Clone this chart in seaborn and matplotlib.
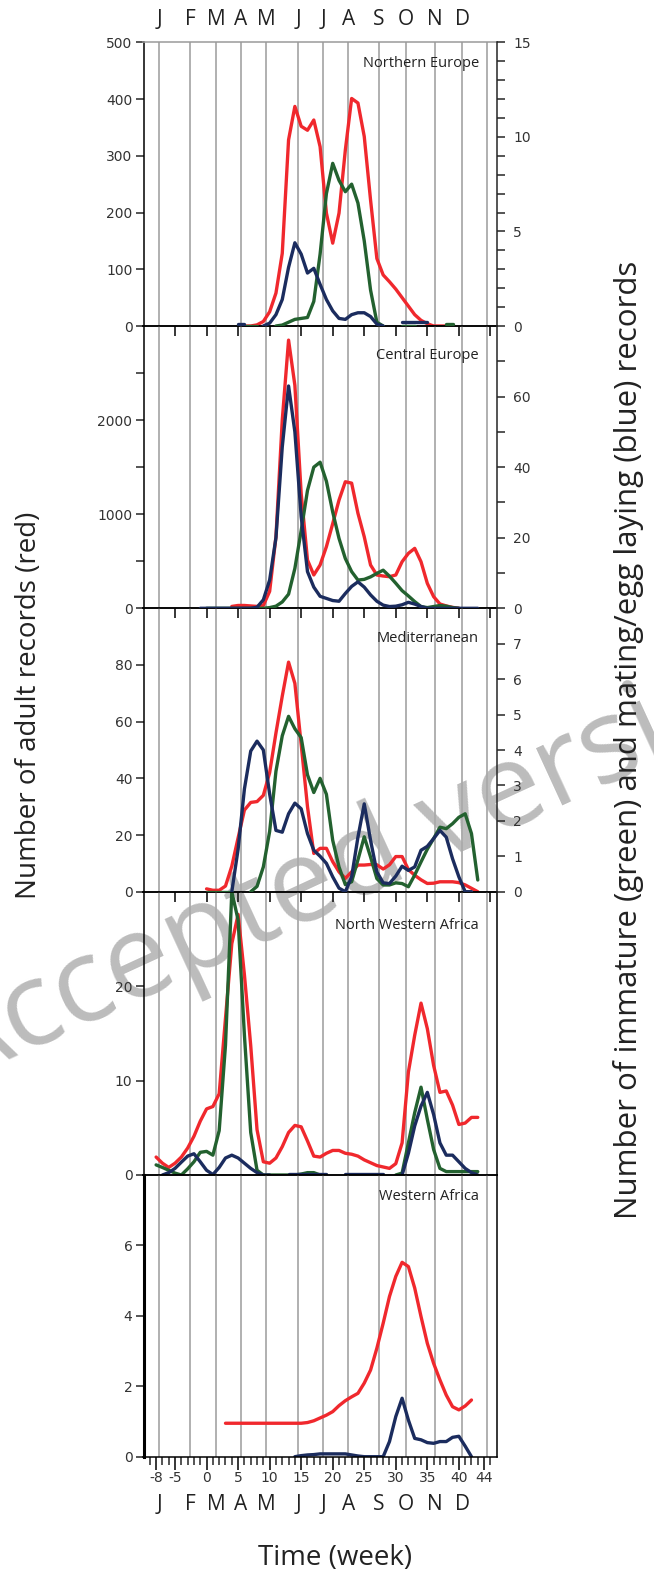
import numpy as np
import pandas as pd
import matplotlib
matplotlib.use("Agg")
import matplotlib.pyplot as plt
import matplotlib.transforms as mtransforms
from matplotlib.ticker import FixedLocator, NullFormatter
import seaborn as sns

NAN = np.nan

# ---------------- data ----------------
MONTHS = ["J", "F", "M", "A", "M", "J", "J", "A", "S", "O", "N", "D"]
MONTH_POS = [-7.5, -2.55, 1.5, 5.4, 9.45, 14.5, 18.45, 22.45, 27.35, 31.6, 36.25, 40.5]
GRID_POS = MONTH_POS + [44.5]
WEEK_TICKS = [-8, -5, 0, 5, 10, 15, 20, 25, 30, 35, 40, 44]
REGIONS = ["Northern Europe", "Central Europe", "Mediterranean",
           "North Western Africa", "Western Africa"]

# Northern Europe (red: left axis 0-500; green/blue: right axis 0-15)
NE_RED_START = 5
NE_RED = [0, 0, 0, 2, 8, 25, 58, 128, 328, 387, 352, 345, 363, 316, 199, 146, 199,
          310, 401, 393, 334, 222, 119, 90, 78, 65, 50, 35, 20, 10, 4, 0, 0, 0, 0]
NE_GREEN_START = 5
NE_GREEN = [0, 0, 0, 0, NAN, NAN, 0, 0.05, 0.2, 0.35, 0.4, 0.45, 1.3, 3.8, 7.0, 8.6,
            7.7, 7.1, 7.5, 6.5, 4.5, 1.9, 0.2, 0, NAN, NAN, 0, 0, 0, NAN, NAN, NAN, NAN,
            0.1, 0.1]
NE_BLUE_START = 5
NE_BLUE = [0.1, 0.1, NAN, NAN, 0, 0.15, 0.6, 1.4, 3.1, 4.4, 3.8, 2.8, 3.05, 2.2, 1.4,
           0.8, 0.4, 0.35, 0.6, 0.7, 0.7, 0.5, 0.1, 0, NAN, NAN, 0.2, 0.2, 0.2, 0.2, 0.2]

# Central Europe (red: left 0-3000; green/blue: right 0-80)
CE_RED_START = 4
CE_RED = [20, 30, 30, 25, 20, 30, 180, 760, 2000, 2850, 2370, 1220, 513, 354, 460, 655,
          900, 1150, 1345, 1330, 1010, 760, 460, 354, 343, 336, 354, 495, 584, 637, 495,
          265, 124, 46, 25, 10, 0]
CE_GREEN_START = 0
CE_GREEN = [0, 0, 0, 0, 0, 0, 0, 0, 0, 0, 0.2, 0.6, 1.8, 4.0, 11.3, 22, 33.4, 40, 41.4,
            36, 27.3, 19.8, 14.1, 10.4, 8.0, 8.2, 8.9, 9.9, 10.8, 9.1, 7.1, 5.0, 3.5, 1.9,
            0.5, 0.2, 0.5, 0.8, 0.6, 0.2, 0]
CE_BLUE_START = -1
CE_BLUE = [0, 0, 0, 0, 0, 0, 0, 0, 0, 0.3, 2.4, 8, 20, 45.7, 63, 50, 26, 10.4, 6, 3.4,
           2.8, 2.2, 2.0, 4.2, 6.2, 7.5, 6, 3.8, 2, 0.9, 0.5, 0.6, 1.0, 1.7, 1.2, 0.5,
           0, 0, 0, 0, 0, 0, 0, 0, 0]

# Mediterranean (red: left 0-100; green/blue: right 0-8)
MED_RED_START = 0
MED_RED = [1, 0.5, 0.5, 2, 9, 19, 28.8, 31.5, 31.8, 34, 42, 56, 69, 81, 73.5, 52, 30,
           13.5, 15.3, 15.3, 10.6, 7, 4.7, 7, 9.4, 9.4, 9.6, 9.5, 8, 9.5, 12.4, 12.4,
           7.8, 5.8, 4.2, 2.9, 3, 3.5, 3.5, 3.5, 3.2, 2.4, 1.2, 0]
MED_GREEN_START = 0
MED_GREEN = [0, 0, 0, 0, 0, NAN, NAN, 0, 0.15, 0.7, 1.7, 3.4, 4.4, 4.95, 4.6, 4.35, 3.3,
             2.8, 3.2, 2.75, 1.45, 0.7, 0.2, 0.28, 0.9, 1.55, 0.98, 0.37, 0.19, 0.19,
             0.25, 0.23, 0.14, 0.47, 0.84, 1.2, 1.5, 1.82, 1.78, 1.92, 2.1, 2.2, 1.64, 0.33]
MED_BLUE_START = 4
MED_BLUE = [0, 1.2, 2.9, 3.97, 4.25, 4.0, 2.76, 1.73, 1.68, 2.2, 2.5, 2.34, 1.64, 1.17,
            1.0, 0.8, 0.42, 0.1, 0, 0.42, 1.54, 2.48, 1.45, 0.56, 0.25, 0.23, 0.44, 0.72,
            0.6, 0.7, 1.17, 1.28, 1.5, 1.73, 1.54, 0.93, 0.42, 0, 0]

# North Western Africa (all on the 0-30 scale)
NWA_RED_START = -8
NWA_RED = [1.9, 1.25, 0.8, 1.25, 1.9, 2.85, 4.1, 5.7, 7.0, 7.25, 8.6, 16.6, 24.5, 27.6,
           21.2, 13.7, 4.8, 1.4, 1.25, 1.8, 3.0, 4.5, 5.25, 5.1, 3.6, 2.0, 1.9, 2.3, 2.6,
           2.6, 2.3, 2.2, 2.0, 1.6, 1.3, 1.0, 0.85, 0.7, 1.2, 3.4, 10.9, 14.8, 18.2,
           15.5, 11.6, 8.75, 8.9, 7.4, 5.35, 5.5, 6.1, 6.1]
NWA_GREEN_START = -8
NWA_GREEN = [1.07, 0.8, 0.5, 0.2, 0, 0.65, 1.4, 2.4, 2.5, 2.1, 4.7, 13.75, 30, 27, 14.8,
             4.5, 0.5, 0, 0, 0, 0, 0, 0, 0.1, 0.25, 0.25, 0, 0, NAN, NAN, NAN, NAN, NAN,
             NAN, NAN, NAN, NAN, NAN, 0, 0.2, 3.4, 6.6, 9.3, 5.9, 2.7, 0.7, 0.36, 0.36,
             0.36, 0.36, 0.36, 0.36]
NWA_BLUE_START = -7
NWA_BLUE = [0, 0.25, 0.7, 1.36, 2.0, 2.25, 1.4, 0.5, 0.05, 0.8, 1.8, 2.1, 1.8, 1.25,
            0.7, 0.25, 0, 0, NAN, NAN, 0.1, 0.1, 0.1, 0.1, 0.1, 0.1, 0.1, NAN, NAN, 0.1,
            0.1, 0.1, 0.1, 0.1, 0.1, 0.1, NAN, NAN, 0, 2.3, 5.2, 7.3, 8.75, 6.4, 3.4, 2.1,
            2.1, 1.4, 0.7, 0.25, 0]

# Western Africa (0-8 scale)
WA_RED_START = 3
WA_RED = [0.95, 0.95, 0.95, 0.95, 0.95, 0.95, 0.95, 0.95, 0.95, 0.95, 0.95, 0.95, 0.95,
          0.97, 1.02, 1.1, 1.18, 1.28, 1.45, 1.59, 1.7, 1.8, 2.09, 2.46, 3.08, 3.79,
          4.55, 5.12, 5.52, 5.4, 4.79, 3.98, 3.22, 2.65, 2.18, 1.75, 1.42, 1.33, 1.44, 1.61]
WA_BLUE_START = 14
WA_BLUE = [0, 0.03, 0.05, 0.06, 0.08, 0.08, 0.08, 0.08, 0.08, 0.05, 0.02, 0, 0, 0, 0,
           0.43, 1.14, 1.66, 1.04, 0.52, 0.48, 0.4, 0.38, 0.43, 0.43, 0.55, 0.58, 0.3, 0]

# ---------------- style ----------------
sns.set_style("white")
plt.rcParams["font.family"] = ["DejaVu Sans"]
plt.rcParams["axes.linewidth"] = 1.1

RED = "#f0282d"
GREEN = "#23612f"
BLUE = "#1b2c5e"
LW = 2.4
LABEL_FONT = ["Open Sans", "DejaVu Sans"]
TICK_COLOR = "#333333"


def to_frame(start, values):
    v = np.array(values, dtype=float)
    w = np.arange(start, start + len(v))
    seg = np.cumsum(np.isnan(v))
    return pd.DataFrame({"week": w, "value": v, "seg": seg}).dropna()


def draw(ax, start, values, color):
    df = to_frame(start, values)
    sns.lineplot(data=df, x="week", y="value", units="seg", estimator=None,
                 sort=False, color=color, lw=LW, ax=ax, legend=False)
    ax.set_xlabel("")
    ax.set_ylabel("")


W_PX, H_PX = 654, 1580
fig = plt.figure(figsize=(W_PX / 100, H_PX / 100), dpi=100)
fig.patch.set_facecolor("white")

LEFT_PX, RIGHT_PX = 143.5, 496.7
TOPS = [42.3, 326.0, 608.3, 891.7, 1175.0]
BOTS = [326.0, 608.3, 891.7, 1175.0, 1456.7]
TITLE_Y = [0.927, 0.897, 0.892, 0.882, 0.925]

LEFT_LIM = [500, 3000, 100, 30, 8]
LEFT_TICKS = [[0, 100, 200, 300, 400, 500], [0, 500, 1000, 1500, 2000, 2500],
              [0, 20, 40, 60, 80], [0, 10, 20], [0, 2, 4, 6]]
LEFT_LABELS = [["0", "100", "200", "300", "400", "500"],
               ["0", "", "1000", "", "2000", ""],
               ["0", "20", "40", "60", "80"], ["0", "10", "20"], ["0", "2", "4", "6"]]
RIGHT_LIM = [15, 80, 8]
RIGHT_TICKS = [list(range(0, 16)), [0, 10, 20, 30, 40, 50, 60, 70], list(range(0, 8))]
RIGHT_LABELS = [[str(t) if t % 5 == 0 else "" for t in range(0, 16)],
                ["0", "", "20", "", "40", "", "60", ""],
                [str(t) for t in range(0, 8)]]

axes = []
for i in range(5):
    ax = fig.add_axes([LEFT_PX / W_PX, 1 - BOTS[i] / H_PX,
                       (RIGHT_PX - LEFT_PX) / W_PX, (BOTS[i] - TOPS[i]) / H_PX])
    ax.patch.set_visible(False)
    axes.append(ax)

series = [
    (NE_RED_START, NE_RED, NE_GREEN_START, NE_GREEN, NE_BLUE_START, NE_BLUE),
    (CE_RED_START, CE_RED, CE_GREEN_START, CE_GREEN, CE_BLUE_START, CE_BLUE),
    (MED_RED_START, MED_RED, MED_GREEN_START, MED_GREEN, MED_BLUE_START, MED_BLUE),
    (NWA_RED_START, NWA_RED, NWA_GREEN_START, NWA_GREEN, NWA_BLUE_START, NWA_BLUE),
    (WA_RED_START, WA_RED, None, None, WA_BLUE_START, WA_BLUE),
]

for i, ax in enumerate(axes):
    for g in GRID_POS:
        ax.axvline(g, color="#aaaaaa", lw=1.3, zorder=0)
    rs, rv, gs, gv, bs, bv = series[i]
    if i < 3:
        ax2 = ax.twinx()
        ax2.patch.set_visible(False)
        for s in ["left", "top", "bottom"]:
            ax2.spines[s].set_visible(False)
        ax2.spines["right"].set_linewidth(1.1)
        draw(ax, rs, rv, RED)
        draw(ax2, gs, gv, GREEN)
        draw(ax2, bs, bv, BLUE)
        ax2.set_ylim(0, RIGHT_LIM[i])
        ax2.yaxis.set_major_locator(FixedLocator(RIGHT_TICKS[i]))
        ax2.set_yticklabels(RIGHT_LABELS[i])
        ax2.tick_params(axis="y", direction="out", length=6, width=1.1, pad=6,
                        labelsize=10, labelcolor=TICK_COLOR, right=True)
        ax2.set_xlim(-10, 46)
    else:
        draw(ax, rs, rv, RED)
        if gv is not None:
            draw(ax, gs, gv, GREEN)
        draw(ax, bs, bv, BLUE)

    ax.set_xlim(-10, 46)
    ax.set_ylim(0, LEFT_LIM[i])
    ax.yaxis.set_major_locator(FixedLocator(LEFT_TICKS[i]))
    ax.set_yticklabels(LEFT_LABELS[i])
    ax.tick_params(axis="y", direction="out", length=6, width=1.1, pad=2,
                   labelsize=10, labelcolor=TICK_COLOR, left=True)
    for s in ax.spines.values():
        s.set_color("black")
    if i < 3:
        ax.spines["right"].set_visible(False)

    if i < 3:
        ax.xaxis.set_major_locator(FixedLocator(list(range(-5, 46, 5))))
        ax.xaxis.set_major_formatter(NullFormatter())
        ax.tick_params(axis="x", direction="out", length=7, width=1.3, bottom=True)
    elif i == 3:
        ax.set_xticks([])
    else:
        ax.xaxis.set_major_locator(FixedLocator(WEEK_TICKS))
        ax.set_xticklabels([str(t) for t in WEEK_TICKS])
        ax.xaxis.set_minor_locator(FixedLocator([w for w in range(-9, 46) if w not in WEEK_TICKS]))
        ax.tick_params(axis="x", which="major", direction="out", length=9, width=1.3,
                       pad=1.5, labelsize=10, labelcolor=TICK_COLOR, bottom=True)
        ax.tick_params(axis="x", which="minor", direction="out", length=6, width=1.1,
                       bottom=True)
        ax.spines["left"].set_linewidth(2.2)

    ax.text(0.95, TITLE_Y[i], REGIONS[i], transform=ax.transAxes, ha="right",
            va="center", fontsize=10.5, color="#222222", family=LABEL_FONT)

axes[0].spines["top"].set_color("#9a9a9a")

# month letters (top and bottom)
trans_top = mtransforms.blended_transform_factory(axes[0].transData, axes[0].transAxes)
trans_bot = mtransforms.blended_transform_factory(axes[4].transData, axes[4].transAxes)
for m, p in zip(MONTHS, MONTH_POS):
    axes[0].text(p, 1.079, m, transform=trans_top, ha="center", va="center",
                 fontsize=15, color="#222222", family=LABEL_FONT, clip_on=False)
    axes[4].text(p, -0.17, m, transform=trans_bot, ha="center", va="center",
                 fontsize=15, color="#222222", family=LABEL_FONT, clip_on=False)

# axis labels
fig.text(29 / W_PX, 1 - 705 / H_PX, "Number of adult records (red)", rotation=90,
         ha="center", va="center", fontsize=20, color="#222222", family=LABEL_FONT)
fig.text(628 / W_PX, 1 - 740 / H_PX,
         "Number of immature (green) and mating/egg laying (blue) records", rotation=90,
         ha="center", va="center", fontsize=22.5, color="#222222", family=LABEL_FONT)
fig.text(335 / W_PX, 1 - 1558 / H_PX, "Time (week)", ha="center", va="center",
         fontsize=20, color="#222222", family=LABEL_FONT)

# watermark
fig.text(366 / W_PX, 1 - 862 / H_PX, "Accepted version", rotation=24.7,
         rotation_mode="anchor", ha="center", va="center", fontsize=85,
         color="#bcbcbc", family=LABEL_FONT, zorder=-1)

fig.savefig("out.png", dpi=100)
